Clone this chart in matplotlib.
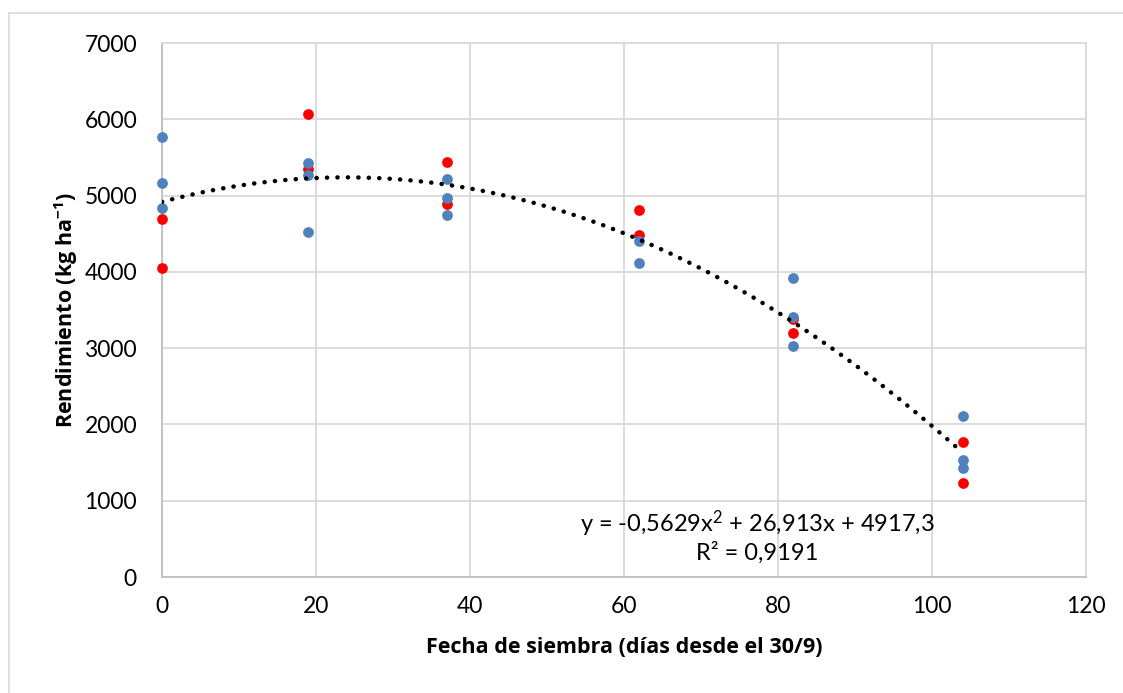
import numpy as np
import matplotlib

matplotlib.use("Agg")
import matplotlib.pyplot as plt  # noqa: E402
from matplotlib.patches import Rectangle  # noqa: E402

plt.rcParams["font.family"] = ["Lato", "DejaVu Sans"]
plt.rcParams["mathtext.fontset"] = "custom"
plt.rcParams["mathtext.rm"] = "Lato"
plt.rcParams["mathtext.it"] = "Lato:italic"
plt.rcParams["mathtext.bf"] = "Open Sans:bold"

# sowing date (days since 30/9) and yield (kg/ha)
red_x = [0, 0, 19, 19, 37, 37, 62, 62, 82, 82, 104, 104]
red_y = [4690, 4050, 6070, 5350, 5440, 4890, 4810, 4480, 3385, 3200, 1775, 1230]
blue_x = [0, 0, 0, 19, 19, 19, 37, 37, 37, 62, 62, 82, 82, 82, 104, 104, 104]
blue_y = [5765, 5165, 4840, 5425, 5270, 4525, 5215, 4970, 4745, 4400, 4115,
          3915, 3405, 3030, 2110, 1535, 1430]

# Excel polynomial trendline, coefficients from its label
trend_coef = [-0.5629, 26.913, 4917.3]
trend_label = "y = -0,5629x$^2$ + 26,913x + 4917,3\nR² = 0,9191"

x_ticks = [0, 20, 40, 60, 80, 100, 120]
y_ticks = [0, 1000, 2000, 3000, 4000, 5000, 6000, 7000]

W, H = 1123, 693
fig = plt.figure(figsize=(W / 100, H / 100), dpi=100)
ax = fig.add_axes([162 / W, 1 - 577 / H, (1086 - 162) / W, (577 - 43) / H])

# chart-area border (only top/left visible in the original)
fig.patches.append(Rectangle((9 / W, -0.2), 1.2, 1.2 - 13 / H, transform=fig.transFigure,
                             fill=False, edgecolor="#d9d9d9", lw=1.2))

ax.scatter(red_x, red_y, s=60, color="#ff0000", zorder=3, clip_on=False, linewidths=0)
ax.scatter(blue_x, blue_y, s=60, color="#4f81bd", zorder=4, clip_on=False, linewidths=0)

xx = np.linspace(0, 104, 300)
ax.plot(xx, np.polyval(trend_coef, xx), color="black", lw=3.2,
        ls=(0, (0.05, 2.3)), dash_capstyle="round", zorder=5)

ax.text(77.3, 530, trend_label, ha="center", va="center", fontsize=17,
        linespacing=1.15, zorder=6)

ax.set_xlim(0, 120)
ax.set_ylim(0, 7000)
ax.set_xticks(x_ticks)
ax.set_yticks(y_ticks)
ax.tick_params(length=0, labelsize=16.5)
ax.tick_params(axis="x", pad=14)
ax.tick_params(axis="y", pad=18)
ax.grid(color="#d9d9d9", lw=1.3)
ax.set_axisbelow(True)
for sp in ax.spines.values():
    sp.set_color("#d9d9d9")
    sp.set_linewidth(1.3)
ax.spines["left"].set_color("#bfbfbf")
ax.spines["bottom"].set_color("#bfbfbf")

lab_font = dict(family=["Open Sans", "DejaVu Sans"], size=15.5, weight="bold")
ax.set_xlabel("Fecha de siembra (días desde el 30/9)", fontdict=lab_font, labelpad=14)
ax.set_ylabel("Rendimiento (kg ha$^{\\mathbf{-1}}$)", fontdict=lab_font, labelpad=3)

fig.savefig("out.png", dpi=100)
